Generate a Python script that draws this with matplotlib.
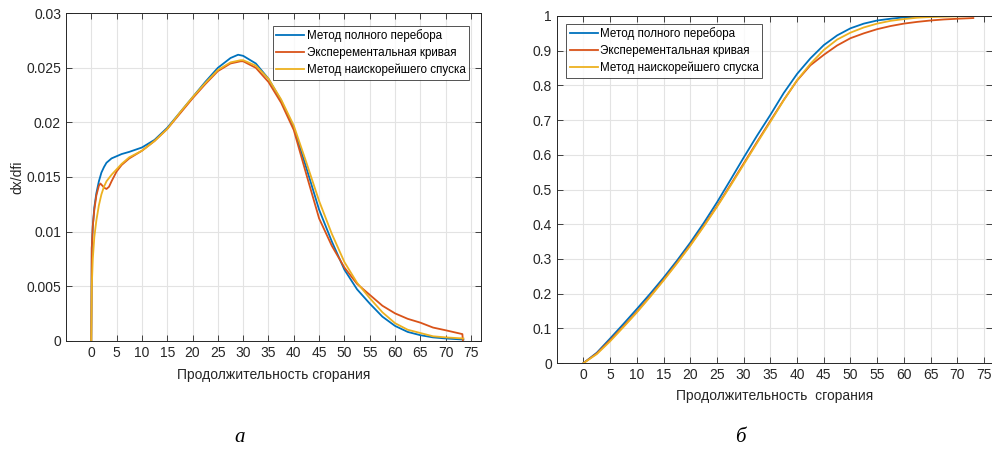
import matplotlib.pyplot as plt
import numpy as np

plt.rcParams['font.family'] = ['Liberation Sans', 'DejaVu Sans']

# --- left plot: dx/dfi
x_full_a = [0, 0.1, 0.3, 0.6, 1, 1.5, 2, 2.5, 3, 4, 5, 6, 7.5, 10, 12.5, 15, 17.5, 20, 22.5,
            25, 27.5, 29, 30, 32.5, 35, 37.5, 40, 42.5, 45, 47.5, 50, 52.5, 55, 57.5, 60,
            62.5, 65, 67.5, 70, 73.5]
y_full_a = [0, 0.0085, 0.0105, 0.0122, 0.0135, 0.0146, 0.0154, 0.0159, 0.0163, 0.0167,
            0.0169, 0.0171, 0.0173, 0.0177, 0.0184, 0.0195, 0.0209, 0.0223, 0.0237,
            0.0250, 0.0259, 0.0262, 0.0261, 0.0254, 0.0240, 0.0220, 0.0195, 0.0158,
            0.0120, 0.0091, 0.0065, 0.0047, 0.0034, 0.0022, 0.00135, 0.0008, 0.0005,
            0.0003, 0.0002, 0.0001]

x_exp_a = [0, 0.1, 0.3, 0.6, 1, 1.5, 1.8, 2.2, 2.6, 3, 3.5, 4, 5, 6, 7.5, 10, 12.5, 15,
           17.5, 20, 22.5, 25, 27.5, 29.5, 30, 32.5, 35, 37.5, 40, 42.5, 45, 47.5, 50,
           52.5, 55, 57.5, 60, 62.5, 65, 67.5, 70, 73.3, 73.4]
y_exp_a = [0, 0.0085, 0.0105, 0.0120, 0.0133, 0.0142, 0.0144, 0.0142, 0.0140, 0.0139,
           0.0141, 0.0146, 0.0155, 0.0161, 0.0167, 0.0174, 0.0183, 0.0194, 0.0208,
           0.0222, 0.0235, 0.0247, 0.0254, 0.0256, 0.0256, 0.0250, 0.0237, 0.0218,
           0.0193, 0.0152, 0.0112, 0.0087, 0.0067, 0.0052, 0.0042, 0.0032, 0.0025,
           0.0020, 0.00165, 0.0012, 0.00095, 0.0006, 0]

x_grad_a = [0, 0.1, 0.3, 0.6, 1, 1.5, 2, 2.5, 3, 4, 5, 6, 7.5, 10, 12.5, 15, 17.5, 20,
            22.5, 25, 27.5, 29.5, 30, 32.5, 35, 37.5, 40, 42.5, 45, 47.5, 50, 52.5, 55,
            57.5, 60, 62.5, 65, 67.5, 70, 73.5]
y_grad_a = [0, 0.0050, 0.0075, 0.0095, 0.0110, 0.0124, 0.0134, 0.0141, 0.0146, 0.0152,
            0.0157, 0.0162, 0.0168, 0.0174, 0.0183, 0.0194, 0.0209, 0.0223, 0.0236,
            0.0248, 0.0255, 0.0257, 0.0257, 0.0252, 0.0240, 0.0221, 0.0197, 0.0163,
            0.0128, 0.0098, 0.0072, 0.0053, 0.0039, 0.0026, 0.0016, 0.0010, 0.0007,
            0.0004, 0.0003, 0.0002]

# --- right plot: cumulative
x_b = [0, 2.5, 5, 7.5, 10, 12.5, 15, 17.5, 20, 22.5, 25, 27.5, 30, 32.5, 35, 37.5, 40,
       42.5, 45, 47.5, 50, 52.5, 55, 57.5, 60, 62.5, 65, 67.5, 70, 73]
y_full_b = [0, 0.030, 0.071, 0.113, 0.156, 0.200, 0.246, 0.295, 0.347, 0.403, 0.463,
            0.527, 0.592, 0.655, 0.715, 0.778, 0.833, 0.878, 0.916, 0.944, 0.9645, 0.978,
            0.987, 0.992, 0.996, 0.998, 0.999, 1.0, 1.0, 1.0]
y_exp_b = [0, 0.028, 0.066, 0.106, 0.148, 0.193, 0.240, 0.289, 0.340, 0.395, 0.452,
           0.513, 0.575, 0.637, 0.698, 0.758, 0.814, 0.858, 0.888, 0.915, 0.936, 0.950,
           0.962, 0.971, 0.978, 0.983, 0.987, 0.990, 0.992, 0.994]
y_grad_b = [0, 0.026, 0.063, 0.104, 0.146, 0.191, 0.238, 0.287, 0.338, 0.393, 0.450,
            0.510, 0.572, 0.634, 0.695, 0.757, 0.815, 0.862, 0.902, 0.932, 0.952, 0.967,
            0.978, 0.986, 0.991, 0.995, 0.997, 0.998, 0.999, 1.0]

labels = ['Метод полного перебора', 'Эксперементальная кривая', 'Метод наискорейшего спуска']
colors = ['#0072BD', '#D95319', '#EDB120']
x_ticks = list(range(0, 80, 5))

fig = plt.figure(figsize=(9.92, 4.5), dpi=100)
ax1 = fig.add_axes([0.0665, 0.243, 0.4185, 0.7275])
ax2 = fig.add_axes([0.5612, 0.193, 0.4388, 0.7715])


def style(ax):
    ax.grid(True, color='#e3e3e3', linewidth=0.8)
    ax.set_axisbelow(True)
    ax.tick_params(direction='in', length=4, width=0.6, top=True, right=True,
                   labelsize=10, colors='#262626')
    for s in ax.spines.values():
        s.set_color('#262626')
        s.set_linewidth(0.7)
    ax.set_xticks(x_ticks)


def add_legend(ax, loc, anchor):
    leg = ax.legend(loc=loc, fontsize=8.4, fancybox=False, edgecolor='#262626',
                    borderpad=0.3, handlelength=2.4, handletextpad=0.2,
                    labelspacing=0.4, borderaxespad=0, bbox_to_anchor=anchor)
    leg.get_frame().set_linewidth(0.7)
    return leg


ax1.plot(x_full_a, y_full_a, color=colors[0], lw=1.3, label=labels[0])
ax1.plot(x_exp_a, y_exp_a, color=colors[1], lw=1.3, label=labels[1])
ax1.plot(x_grad_a, y_grad_a, color=colors[2], lw=1.3, label=labels[2])
style(ax1)
ax1.set_xlim(-5, 77)
ax1.set_ylim(0, 0.03)
ax1.set_yticks(np.arange(0, 0.0301, 0.005))
ax1.set_yticklabels(['0', '0.005', '0.01', '0.015', '0.02', '0.025', '0.03'])
ax1.set_xlabel('Продолжительность сгорания', fontsize=10, color='#262626', labelpad=6)
ax1.set_ylabel('dx/dfi', fontsize=10, color='#262626', labelpad=1)
add_legend(ax1, 'upper right', (0.971, 0.961))

ax2.plot(x_b, y_full_b, color=colors[0], lw=1.3, label=labels[0])
ax2.plot(x_b, y_exp_b, color=colors[1], lw=1.3, label=labels[1])
ax2.plot(x_b, y_grad_b, color=colors[2], lw=1.3, label=labels[2])
style(ax2)
ax2.set_xlim(-5, 76.5)
ax2.set_ylim(0, 1)
ax2.set_yticks(np.arange(0, 1.01, 0.1))
ax2.set_yticklabels(['0', '0.1', '0.2', '0.3', '0.4', '0.5', '0.6', '0.7', '0.8', '0.9', '1'])
ax2.set_xlabel('Продолжительность  сгорания', fontsize=10, color='#262626', labelpad=5)
add_legend(ax2, 'upper left', (0.0214, 0.977))

fig.text(240 / 992, 1 - 437 / 450, 'а', family='Liberation Serif', style='italic',
         fontsize=15, ha='center', va='center')
fig.text(740 / 992, 1 - 437 / 450, 'б', family='Liberation Serif', style='italic',
         fontsize=15, ha='center', va='center')

fig.savefig('out.png', dpi=100)
